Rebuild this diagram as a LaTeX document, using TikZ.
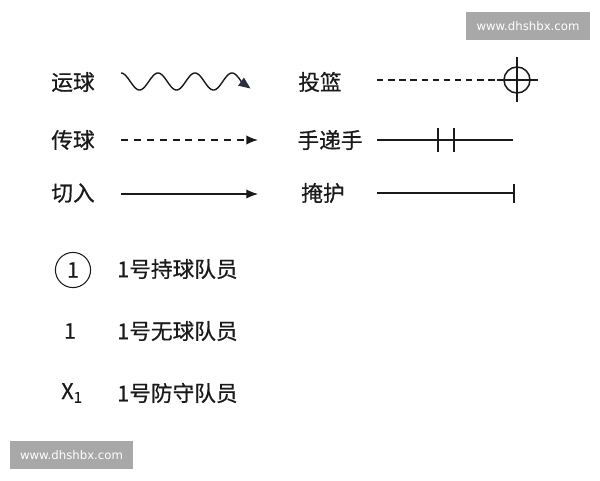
\documentclass[tikz,border=0pt]{standalone}
\usepackage{fontspec}
\setmainfont{Noto Sans CJK SC}[FakeBold=0.6]
\newfontfamily\markfont{DejaVu Sans}
\usetikzlibrary{arrows.meta}
\definecolor{ink}{HTML}{1A1A1A}
\definecolor{tipblue}{HTML}{2B2D42}
\definecolor{markgray}{HTML}{A8A8A8}
\tikzset{
  lbl/.style={text=ink,inner sep=0pt,font=\fontsize{18.5}{22}\selectfont},
  sym/.style={draw=ink,line width=1.3pt},
  wmark/.style={fill=markgray,text=white,font=\markfont\fontsize{10}{12}\selectfont,
    minimum width=105.4pt,minimum height=24.7pt,inner sep=0pt},
  tip/.style={-{Latex[length=10pt,width=8pt]}}
}
\begin{document}
\begin{tikzpicture}[x=0.03cm,y=-0.03cm]
   \useasboundingbox (0,0) rectangle (600,480);
   % watermarks
   \node[wmark] (markA) at (528,26) {www.dhshbx.com};
   \node[wmark,minimum width=104.5pt] (markB) at (71.5,455) {www.dhshbx.com};
   % left column
   \node[lbl] (dribble) at (73,82) {运球};
   \node[lbl] (pass) at (73,140) {传球};
   \node[lbl] (cut) at (73,193) {切入};
   \draw[sym,line width=1.2pt]
     plot[domain=0:121.5,samples=120] ({\x+121},{81.5-8.5*cos(\x*9.7297)});
   \fill[tipblue] (250.5,88.5) -- (238.1,85.7) -- (243.9,77.6) -- cycle;
   \draw[sym,dashed,dash pattern=on 6pt off 5pt,tip] (121,140) -- (258,140);
   \draw[sym,line width=1.1pt,tip] (121,194) -- (258,194);
   % right column
   \node[lbl] (shoot) at (320,82) {投篮};
   \node[lbl] (handoff) at (330,140) {手递手};
   \node[lbl] (screen) at (323,193) {掩护};
   \coordinate (hoop) at (517,80);
   \draw[sym,dashed,dash pattern=on 5.5pt off 4pt] (377,80) -- (504,80);
   \draw[sym] (hoop) circle(13);
   \draw[sym] (517,57) -- (517,102) (497,80) -- (538,80);
   \draw[sym] (377,140) -- (513,140) (438,128) -- (438,152) (454,128) -- (454,152);
   \draw[sym] (377,193) -- (514,193) (514,184) -- (514,203);
   % players
   \node[draw=ink,line width=0.9pt,circle,minimum size=30pt,inner sep=0pt,text=ink,
     font=\fontsize{18.5}{22}\selectfont] (ballman) at (73,270) {1};
   \node[lbl,anchor=west] (balltxt) at (117,269) {1号持球队员};
   \node[lbl] (offman) at (70,331) {1};
   \node[lbl,anchor=west] (offtxt) at (117,331) {1号无球队员};
   \node[lbl] (defman) at (72,393) {X\textsubscript{1}};
   \node[lbl,anchor=west] (deftxt) at (117,393) {1号防守队员};
\end{tikzpicture}
\end{document}
